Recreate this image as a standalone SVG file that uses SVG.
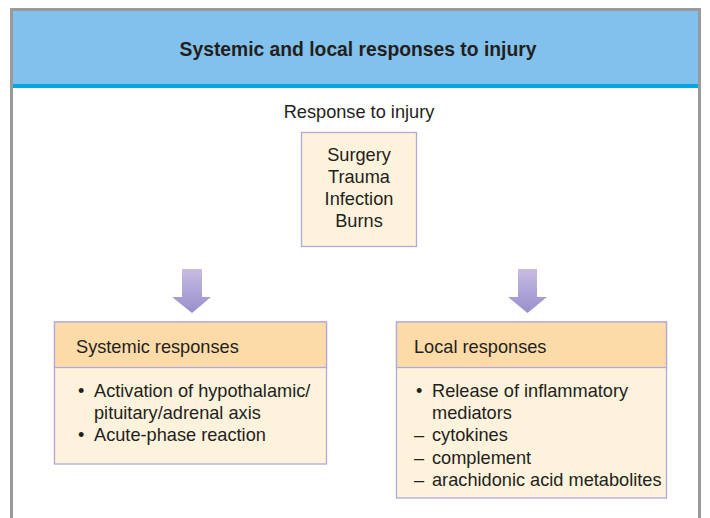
<svg xmlns="http://www.w3.org/2000/svg" width="710" height="518" viewBox="0 0 710 518">
<defs>
<linearGradient id="ag" x1="0" y1="0" x2="0" y2="1">
<stop offset="0" stop-color="#C6BCE2"/>
<stop offset="1" stop-color="#9A8ECB"/>
</linearGradient>
<style>
.t{font-family:"Liberation Sans",Arial,sans-serif;font-size:18.2px;fill:#231F20}
.c{text-anchor:middle}
.box{fill:#FDF2DC;stroke:#B3A8DA;stroke-width:1.3}
.hd{fill:#FDDBA8;stroke:#B3A8DA;stroke-width:1.3}
.arr{fill:url(#ag)}
</style>
</defs>
<rect x="0" y="0" width="710" height="518" fill="#fff"/>
<g id="frame">
<rect x="11" y="9" width="689" height="77" fill="#82C1EB"/>
<rect x="11" y="84" width="689" height="4" fill="#00A7E1"/>
<path d="M11.5 518 V9.5 H699.5 V518" fill="none" stroke="#9A9A9C" stroke-width="3"/>
<text class="t c" x="358" y="56" style="font-weight:bold;font-size:19.3px">Systemic and local responses to injury</text>
</g>
<g id="root">
<text class="t c" x="359" y="118">Response to injury</text>
<rect class="box" x="301.5" y="132.5" width="115" height="114"/>
<text class="t c" x="359" y="161">Surgery</text>
<text class="t c" x="359" y="183">Trauma</text>
<text class="t c" x="359" y="205">Infection</text>
<text class="t c" x="359" y="227">Burns</text>
</g>
<g id="connectors">
<path class="arr" d="M182 269 H202 V297 H211 L192 313 L172 297 H182 Z"/>
<path class="arr" d="M518 269 H537 V297 H547 L527.5 313 L508 297 H518 Z"/>
</g>
<g id="systemic">
<rect class="box" x="54.5" y="322" width="272" height="142"/>
<rect class="hd" x="54.5" y="322" width="272" height="45.5"/>
<text class="t" x="76" y="353">Systemic responses</text>
<text class="t" x="78" y="397">•</text>
<text class="t" x="94" y="397">Activation of hypothalamic/</text>
<text class="t" x="94" y="419">pituitary/adrenal axis</text>
<text class="t" x="78" y="441">•</text>
<text class="t" x="94" y="441">Acute-phase reaction</text>
</g>
<g id="local">
<rect class="box" x="396.5" y="322" width="270" height="176"/>
<rect class="hd" x="396.5" y="322" width="270" height="45.5"/>
<text class="t" x="414" y="353">Local responses</text>
<text class="t" x="416" y="397">•</text>
<text class="t" x="432" y="397">Release of inflammatory</text>
<text class="t" x="432" y="419">mediators</text>
<text class="t" x="414" y="441">–</text>
<text class="t" x="432" y="441">cytokines</text>
<text class="t" x="414" y="464">–</text>
<text class="t" x="432" y="464">complement</text>
<text class="t" x="414" y="486">–</text>
<text class="t" x="432" y="486">arachidonic acid metabolites</text>
</g>
</svg>
